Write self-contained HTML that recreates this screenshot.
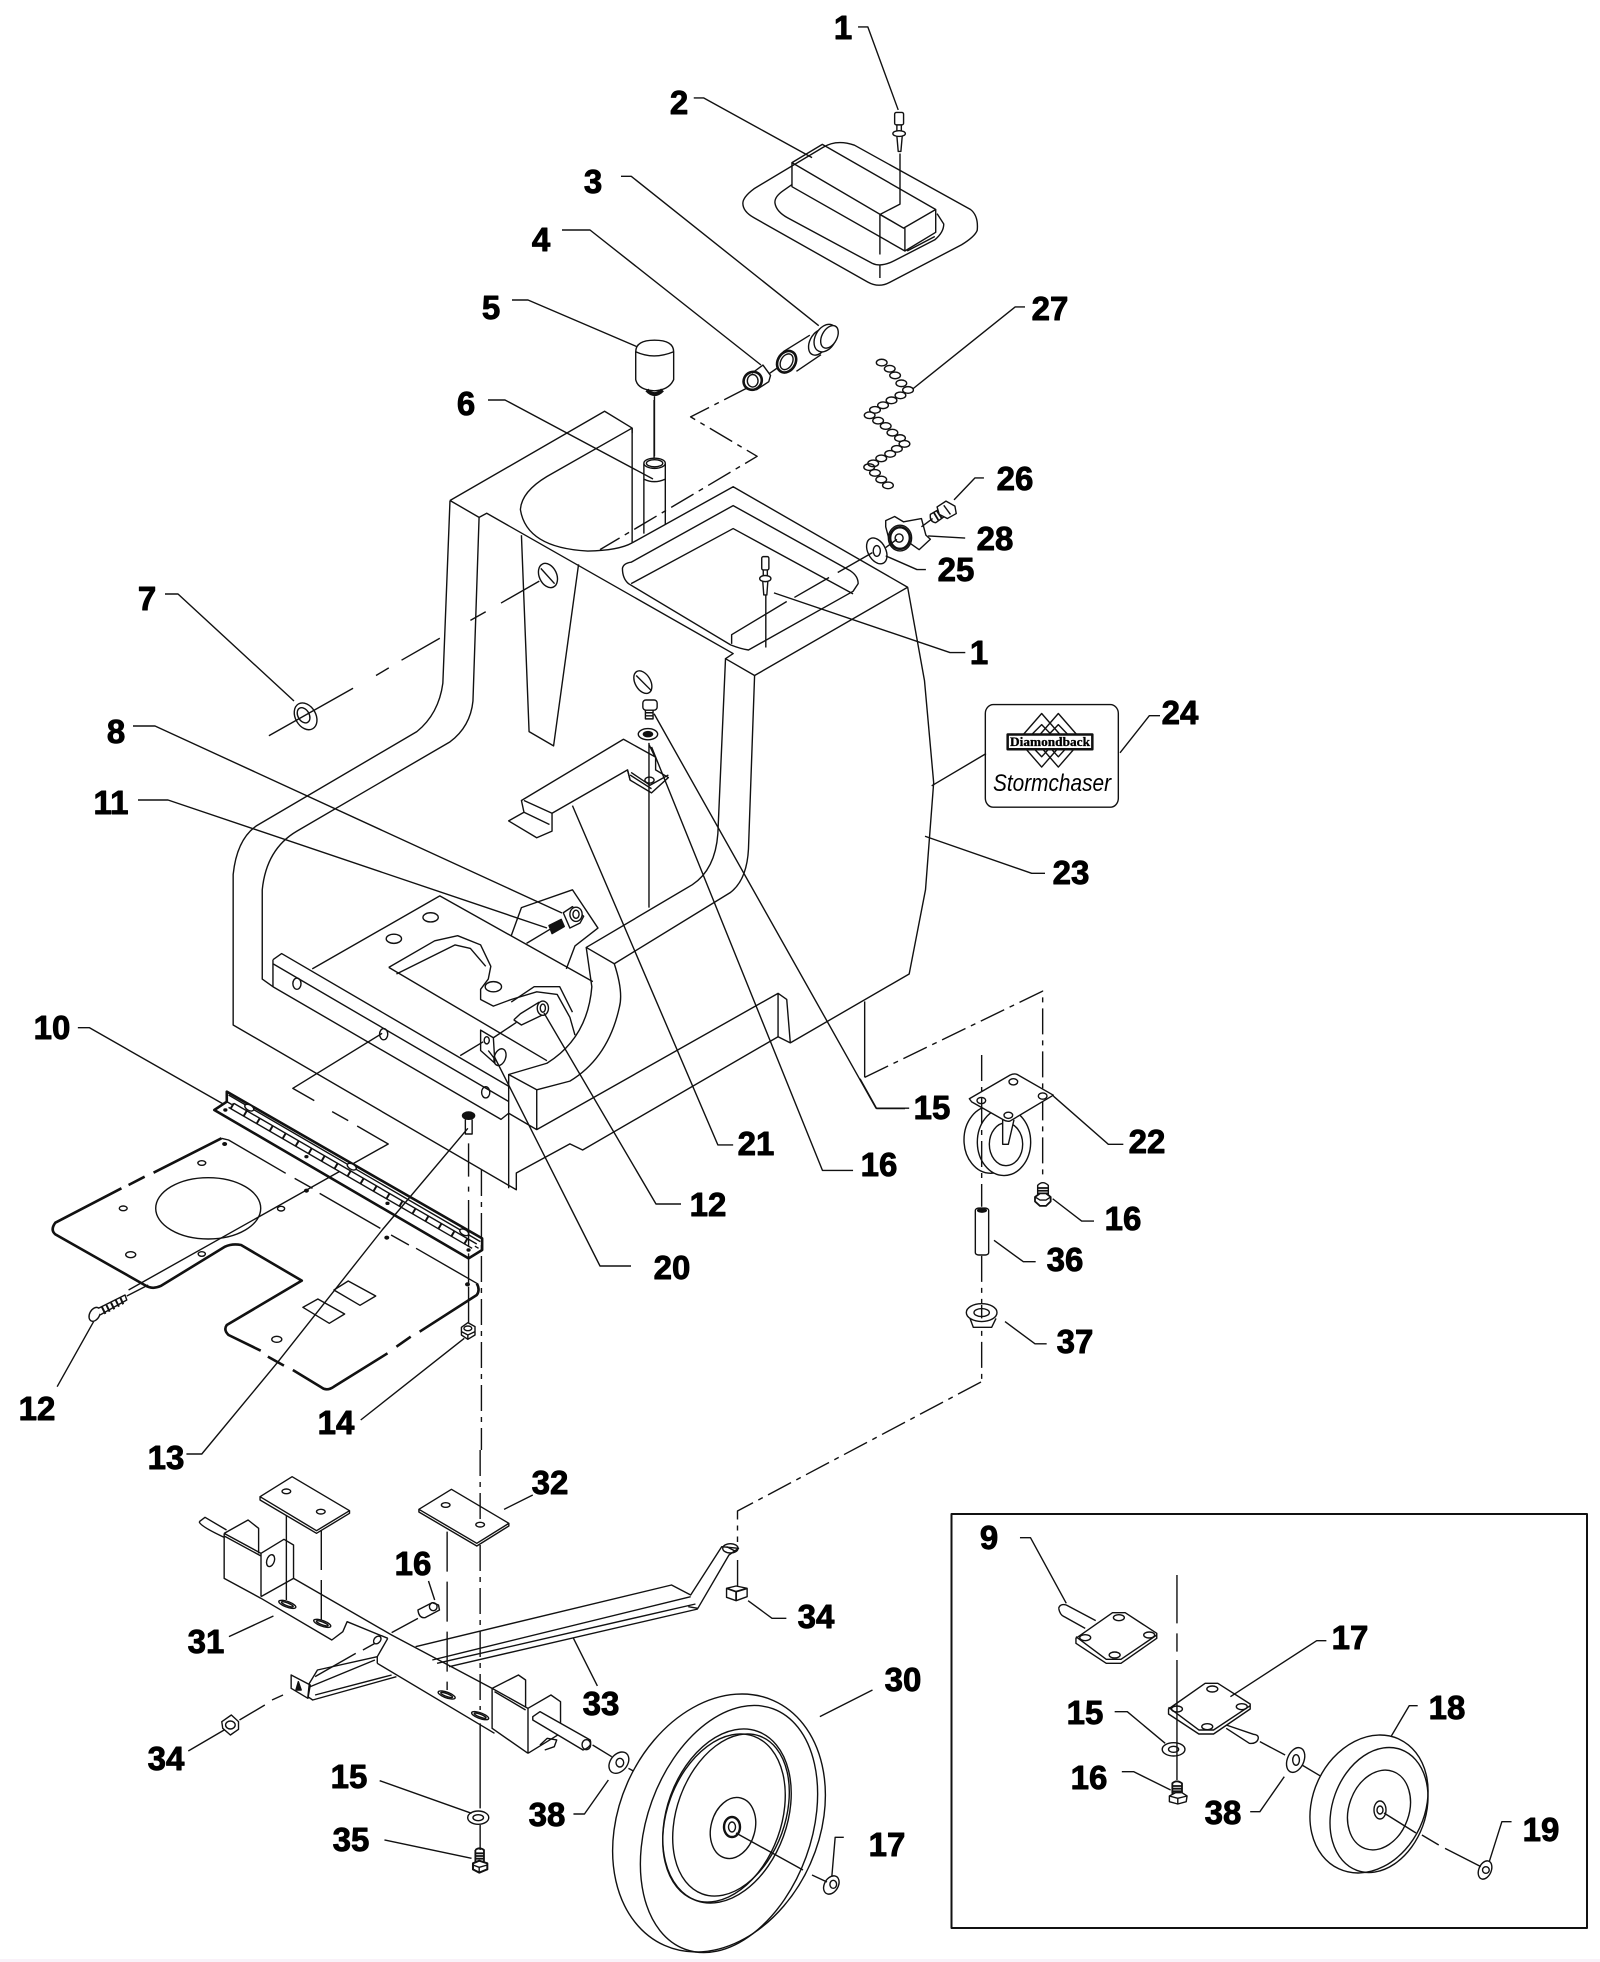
<!DOCTYPE html>
<html><head><meta charset="utf-8"><style>
html,body{margin:0;padding:0;background:#fff}
svg{display:block}
svg *{vector-effect:non-scaling-stroke}
g,path,ellipse,rect,polygon,line{fill:none;stroke:#111;stroke-width:1.4;stroke-linejoin:round}
.w{fill:#fff}
.k{fill:#111}
.t{stroke-width:2.6}
.d{stroke-dasharray:26 6 5 6}
.e{stroke-dasharray:40 10}
text{font-family:"Liberation Sans",sans-serif;font-weight:bold;font-size:33px;fill:#000;stroke:#000;stroke-width:.9;text-anchor:middle}
</style></head><body>
<svg width="1600" height="1962" viewBox="0 0 1600 1962" xmlns="http://www.w3.org/2000/svg">
<rect x="0" y="0" width="1600" height="1962" style="fill:#fff;stroke:none"/>
<rect x="0" y="1959" width="1600" height="3" style="fill:#f9f2f9;stroke:none"/>

<!-- main body: crop 1 -->
<g transform="translate(200 400) scale(.5102)">
<path d="M490 197L793 22L847 55L847 280"/>
<path d="M490 197L476 555Q468 615 425 650L110 835Q72 862 65 930L65 1225L620 1548L620 1515L725 1458L750 1470L1133 1248L1157 1260L1390 1125L1422 960L1438 750L1420 550L1387 367L1045 170L847 280"/>
<path d="M490 197L547 230L535 590Q530 640 490 670L190 845Q130 880 122 960L122 1135L143 1150L590 1410L605 1398"/>
<path d="M547 230L562 222L1045 497L1030 507L1087 540L1387 367"/>
<path d="M1030 507L1015 850Q1010 920 965 950L757 1073L812 1105L1040 965Q1072 940 1075 880L1087 540"/>
<path d="M757 1073L768 1150Q760 1250 680 1300L605 1322L660 1352L725 1335Q800 1290 822 1190Q830 1160 812 1105"/>
<path d="M605 1322L605 1545M660 1352L660 1430L605 1398M660 1430L1133 1163L1150 1175L1157 1260M1133 1163L1133 1248"/>
<path d="M143 1097L160 1085L605 1345M143 1097L143 1150M143 1105L605 1375"/>
<path d="M220 1115L470 972L770 1140"/>
<path d="M847 55L847 65M847 55L680 150Q630 180 628 215Q640 290 760 296Q820 295 847 280"/>
<path d="M630 265L645 650L693 678L742 322"/>
<ellipse cx="682" cy="344" rx="17" ry="25" transform="rotate(-25 682 344)"/><path d="M668 330L695 360"/>
<!-- tube 6 -->
<path d="M870 125L870 262M912 125L912 245M870 155Q890 165 912 155"/>
<ellipse cx="891" cy="124" rx="21" ry="10"/><ellipse cx="891" cy="124" rx="16" ry="7"/>
<path d="M890 0L890 115"/>
<!-- basin -->
<path d="M828 330Q830 320 845 318L1045 207L1275 335Q1290 345 1290 360L1280 375L1075 490Q1060 488 1040 480L840 360Q828 350 828 330Z"/>
<path d="M845 360L1045 252L1280 380M1042 478L1042 460L1150 395"/>
<path class="e" d="M1165 387L1325 295"/>
<!-- rivet -->
<rect x="1101" y="307" width="14" height="26" rx="3"/><path d="M1104 333V345M1112 333V345"/><ellipse cx="1108" cy="350" rx="11" ry="6"/>
<path d="M1103 355L1105 382H1111L1113 355M1109 382L1109 485"/>
<!-- dash 7 -->
<path d="M665 355L590 398M560 415L530 432M470 467L395 510M370 525L345 540M300 565L135 658"/>
<!-- washer 7 -->
<ellipse cx="207" cy="620" rx="20" ry="28" transform="rotate(-30 207 620)"/>
<ellipse cx="203" cy="618" rx="11" ry="16" transform="rotate(-30 203 618)"/>
<!-- bracket 21 -->
<path d="M605 825L635 808L630 785L830 665L893 700L893 725L918 740L885 770L843 745L838 725L690 810L690 845L660 858Z"/>
<path d="M635 808L685 832M635 785L690 810M843 745L838 725M845 730L882 755L918 735M843 735L885 762"/>
<ellipse cx="881" cy="745" rx="9" ry="6"/>
<!-- bolt, washer, hole -->
<ellipse cx="868" cy="553" rx="15" ry="24" transform="rotate(-30 868 553)"/><path d="M855 540L885 570"/>
<rect x="868" y="588" width="28" height="20" rx="6" class="w"/><path d="M873 608L873 625H888L888 608M873 613H888M873 619H888"/>
<ellipse cx="878" cy="655" rx="19" ry="11"/><ellipse cx="878" cy="655" rx="9" ry="5" class="k"/>
<path d="M880 672L880 995M880 675L892 700"/>
<!-- part 8 zone -->
<path d="M610 1050L630 995L730 960L780 1035L735 1070L718 1115"/>
<path d="M640 1065L690 1035"/>
<path d="M712 1005L730 993L752 1012L745 1025L725 1035Z" class="w"/>
<ellipse cx="737" cy="1008" rx="12" ry="14" class="w"/><ellipse cx="737" cy="1008" rx="6" ry="8"/>
<path d="M684 1030L708 1018L714 1032L690 1046Z" class="k"/>
<!-- cutout -->
<path d="M370 1112L460 1060L505 1050L550 1068L570 1110L565 1135L550 1155L550 1175L575 1188L610 1175L660 1160L700 1165L725 1210L735 1245"/>
<path d="M385 1125L500 1068L530 1075L560 1110M610 1180L655 1150L705 1150L730 1200"/>
<path d="M370 1112L680 1295M510 1285L555 1258"/>
<ellipse cx="452" cy="1014" rx="15" ry="9"/><ellipse cx="380" cy="1056" rx="15" ry="9"/>
<ellipse cx="190" cy="1144" rx="8" ry="11"/><ellipse cx="360" cy="1243" rx="8" ry="11"/><ellipse cx="560" cy="1357" rx="8" ry="11"/>
<ellipse cx="575" cy="1150" rx="16" ry="10"/>
<!-- pin 12 -->
<path d="M615 1215L630 1225L672 1205M615 1215L628 1203L665 1180"/>
<ellipse cx="672" cy="1192" rx="11" ry="14" class="w"/><ellipse cx="672" cy="1192" rx="5" ry="8"/>
<!-- bracket 20 -->
<path d="M550 1235L575 1250L578 1300L550 1275Z"/><ellipse cx="562" cy="1255" rx="5" ry="7"/>
<ellipse cx="588" cy="1288" rx="11" ry="17" transform="rotate(20 588 1288)"/>
<path d="M565 1275L578 1292M575 1250L620 1220"/>
<!-- leaders -->
<path d="M1125 378L1470 495H1500M890 615L1325 1388H1390M885 680L1220 1510H1280M730 795L1015 1460H1045"/>
</g>
<path d="M133 726H155L562 913M138 800H168L547 928M165 594H178L294 701M488 400H505L653 479M512 300H528L640 348M562 230H590L761 365M494 1056L600 1266H631M544 1013L656 1204H681"/>
<path class="d" d="M981 1382L737.5 1511V1542"/>

<!-- lower plate: crop 2 -->
<g transform="translate(0 1000) scale(.35714 .33333)">
<path class="t" d="M620 415L430 518M405 530L360 555M340 565L155 668Q140 690 155 703L405 855Q425 870 450 858L630 740Q650 730 675 735L845 842L635 975Q625 990 640 1005L730 1052M750 1070L795 1097M820 1110L900 1162Q915 1175 935 1160L1085 1060M1110 1040L1150 1010M1175 995L1335 885Q1345 870 1335 850"/>
<path d="M620 415L640 420L800 520M825 535L875 565M895 580L1065 685M1095 705L1145 735M1165 745L1335 850"/>
<ellipse cx="583" cy="625" rx="147" ry="92"/>
<ellipse cx="565" cy="489" rx="11" ry="7"/><ellipse cx="345" cy="625" rx="11" ry="7"/><ellipse cx="366" cy="764" rx="14" ry="9"/><ellipse cx="565" cy="762" rx="10" ry="7"/><ellipse cx="787" cy="626" rx="10" ry="7"/><ellipse cx="775" cy="1018" rx="14" ry="9"/>
<ellipse class="k" cx="629" cy="432" rx="5" ry="4"/><ellipse class="k" cx="858" cy="572" rx="5" ry="4"/><ellipse class="k" cx="1083" cy="713" rx="5" ry="4"/><ellipse class="k" cx="1309" cy="853" rx="5" ry="4"/><ellipse class="k" cx="858" cy="470" rx="4" ry="3"/><ellipse class="k" cx="1085" cy="610" rx="4" ry="3"/><ellipse class="k" cx="1312" cy="750" rx="4" ry="3"/><ellipse class="k" cx="631" cy="330" rx="4" ry="3"/>
<path d="M1070 100L820 265L880 302M930 335L975 362M1000 378L1087 432L990 490M950 515L360 870"/>
<path d="M935 870L975 843L1052 888L1008 916ZM848 922L890 897L965 942L922 970Z"/>
<!-- hinge -->
<path class="t" d="M635 275L1350 715L1350 750L1312 775L600 330L635 305Z"/>
<path d="M635 305L1340 745M640 285L1345 725"/>
<path d="M650 312L1330 738" style="stroke-width:7;stroke:#fff"/>
<path d="M655 310L1335 732M640 322L1322 745"/>
<path d="M648 316L1328 740" style="stroke-width:6;stroke-dasharray:2 13"/>
<ellipse cx="698" cy="323" rx="14" ry="8" transform="rotate(32 698 323)" class="w"/>
<ellipse cx="985" cy="500" rx="14" ry="8" transform="rotate(32 985 500)" class="w"/>
<ellipse cx="1300" cy="697" rx="14" ry="8" transform="rotate(32 1300 697)" class="w"/>
<!-- screw 12 -->
<ellipse cx="265" cy="943" rx="14" ry="22" transform="rotate(25 265 943)" class="w"/>
<path d="M275 925L350 885L355 900L280 945" class="w"/>
<path d="M285 920L295 942M298 915L307 935M311 908L320 928M324 900L333 920M337 893L345 913" style="stroke-width:2"/>
<path d="M355 888L415 855"/>
<!-- screw 13 -->
<ellipse cx="1312" cy="347" rx="17" ry="11" class="k"/>
<path d="M1303 358L1303 402H1322L1322 358"/>
<!-- nut 14 -->
<path d="M1292 982L1310 968L1330 980L1330 1005L1310 1018L1292 1005Z" class="w"/><ellipse cx="1310" cy="985" rx="11" ry="7"/><path d="M1292 995L1310 1005L1330 995M1310 1005V1018"/>
<!-- dashed verticals -->
<path d="M1312 430L1312 530M1312 560L1312 575M1312 600L1312 740M1312 760L1312 850M1312 860L1312 970"/>
<path class="d" d="M1348 510L1348 1350"/>
<!-- leaders -->
<path d="M160 1160L262 965M1010 1260L1300 1015M522 1362H565L775 1090L1070 690L1310 385M218 83H250L625 312"/>
</g>

<!-- frame: crop 3 -->
<g transform="translate(150 1450) scale(.47847 .33333)">
<path d="M230 140L297 80L417 182L348 242ZM230 140L230 150L348 250L417 190L417 182"/>
<ellipse cx="285" cy="124" rx="9" ry="7"/><ellipse cx="357" cy="185" rx="9" ry="7"/>
<path d="M562 178L630 118L750 220L683 280ZM562 178L562 186L683 288L750 228L750 220"/>
<ellipse cx="618" cy="165" rx="9" ry="7"/><ellipse cx="690" cy="224" rx="9" ry="7"/>
<path d="M103 215L115 202L160 240M103 215Q104 228 155 262"/>
<path d="M155 250L205 210L227 235L227 310M155 250L232 310L232 440M155 258L232 318M232 310L280 268L300 285L300 385L232 440M155 250L155 385L232 445"/>
<ellipse cx="252" cy="332" rx="8" ry="18" transform="rotate(10 252 332)"/>
<path d="M300 385L505 555L715 715M232 445L380 570L403 545L412 515L497 565M475 620L497 565M475 640L720 850M475 620L475 640"/>
<path d="M285 195L285 450"/><path class="e" d="M358 240L358 510"/>
<ellipse cx="287" cy="463" rx="20" ry="8" transform="rotate(30 287 463)"/><ellipse cx="287" cy="463" rx="14" ry="4" transform="rotate(30 287 463)"/>
<ellipse cx="360" cy="520" rx="20" ry="8" transform="rotate(30 360 520)"/><ellipse cx="360" cy="520" rx="14" ry="4" transform="rotate(30 360 520)"/>
<ellipse cx="620" cy="735" rx="20" ry="8" transform="rotate(30 620 735)"/><ellipse cx="620" cy="735" rx="14" ry="4" transform="rotate(30 620 735)"/>
<ellipse cx="690" cy="797" rx="20" ry="8" transform="rotate(30 690 797)"/><ellipse cx="690" cy="797" rx="14" ry="4" transform="rotate(30 690 797)"/>
<path class="e" d="M621 245L621 720"/><path class="d" d="M690 285L690 780"/>
<path d="M690 820L690 1075M690 1125L690 1200"/><path class="d" d="M690 0L690 215"/>
<path d="M715 715L770 675L785 690L785 770M715 715L790 775L790 910M720 725L785 780M790 775L838 735L858 755L858 850L790 910M715 715L715 835L790 910"/>
<path d="M800 800L815 785L920 870Q925 890 905 900L800 810Z" class="w"/><ellipse cx="912" cy="884" rx="9" ry="15"/>
<path d="M815 885L830 865L850 870L845 890L825 900"/>
<!-- arm 33 -->
<path d="M555 590L1090 405L1130 435L1195 290L1230 295L1210 315L1145 475L1125 470M590 630L1130 440M600 640L1140 462M625 650L1145 477"/>
<path d="M475 620L350 660L333 700L330 740L340 750L515 680M335 710L470 630M345 735L505 675"/>
<path d="M295 675L335 705L330 745L295 715Z"/><path d="M310 695L305 720L316 720Z" class="k"/>
<ellipse cx="1213" cy="295" rx="16" ry="14"/><path d="M1205 290L1225 305"/>
<ellipse cx="475" cy="570" rx="7" ry="12" transform="rotate(20 475 570)"/>
<!-- bolt 16 -->
<path d="M560 480L590 458L603 465L605 480L575 503Q562 505 560 480Z" class="w"/><ellipse cx="592" cy="470" rx="8" ry="12"/>
<path d="M560 505L505 548M470 580L445 600M430 610L345 680"/>
<!-- nuts 34 -->
<path d="M1205 415L1225 408L1248 415L1248 440L1225 452L1205 442Z" class="w"/><path d="M1205 415L1225 425L1248 415M1225 425V452" style="stroke-width:1.8"/>
<path d="M150 815L170 795L185 815L185 838L168 855L152 835Z"/><ellipse cx="168" cy="825" rx="10" ry="12"/>
<path d="M187 810L240 765M255 750L278 735"/>
<path d="M1228 330L1228 410"/>
<!-- leaders -->
<path d="M582 393L595 450M165 560L258 498M740 178L800 135M935 708L885 565M1330 505H1300L1250 452M1400 800L1510 720M80 903L155 840M480 992L672 1090M490 1170L672 1225M885 1092H908L958 990M1450 1162H1432L1425 1280"/>
<!-- washer 15 + bolt 35 -->
<ellipse cx="686" cy="1103" rx="22" ry="20"/><ellipse cx="686" cy="1103" rx="11" ry="9"/>
<path d="M680 1200L680 1235H698L698 1200Q688 1190 680 1200M680 1210H698M680 1218H698M680 1226H698" style="stroke-width:1.8"/>
<path d="M675 1240L688 1232L705 1240L705 1258L688 1268L675 1258Z" class="w" style="stroke-width:2"/><path d="M675 1245L688 1252L705 1245M688 1252V1268"/>
<!-- washer 38 -->
<ellipse cx="980" cy="938" rx="19" ry="33" transform="rotate(18 980 938)"/><ellipse cx="982" cy="938" rx="8" ry="13"/>
<path d="M925 885L965 920M1000 955L1030 978"/>
<!-- end cap 17 -->
<ellipse cx="1424" cy="1305" rx="15" ry="28" transform="rotate(15 1424 1305)"/><ellipse cx="1428" cy="1303" rx="7" ry="12"/>
</g>
<!-- wheel 30, real coordinates -->
<ellipse cx="719" cy="1823" rx="100" ry="134" transform="rotate(24 719 1823)" class="w"/>
<ellipse cx="729" cy="1829" rx="82" ry="128" transform="rotate(20 729 1829)"/>
<ellipse cx="727" cy="1816" rx="60" ry="90" transform="rotate(20 727 1816)"/>
<ellipse cx="724" cy="1818" rx="57" ry="87" transform="rotate(20 724 1818)"/>
<ellipse cx="731" cy="1815" rx="54" ry="84" transform="rotate(20 731 1815)"/>
<ellipse cx="733" cy="1828" rx="22" ry="31" transform="rotate(15 733 1828)"/>
<ellipse cx="732" cy="1827" rx="8" ry="10" style="stroke-width:2.4"/><ellipse cx="732" cy="1827" rx="3.5" ry="5"/>
<path d="M736 1833L803 1870M812 1875L827 1882"/>

<!-- top parts: crop 5 -->
<g transform="translate(600 0) scale(.44643 .41484)">
<path d="M320 490Q320 475 345 455L500 355Q530 335 570 350L830 505Q848 520 845 555Q840 570 810 590L650 680Q625 695 600 680L345 525Q320 510 320 490Z"/>
<path d="M430 445L410 460Q390 475 392 490Q395 510 420 525L610 635Q630 645 660 628L750 578Q770 560 770 540L755 515"/>
<path d="M430 392L498 348L752 505L680 550ZM430 392L430 450L683 605L683 550M752 505L752 560L683 605M627 517L680 550"/>
<path d="M688 605L750 570"/>
<path d="M627 517L672 492L672 370"/>
<path class="e" d="M627 517L627 670"/>
<rect x="660" y="271" width="20" height="30" rx="4"/><path d="M665 301V316M675 301V316"/><ellipse cx="670" cy="322" rx="14" ry="7"/>
<path d="M665 328L668 365H674L677 328"/>
<path d="M210 236H232L475 380M578 65H600L668 265M47 425H70L490 785"/>
<!-- part 3 -->
<path d="M410 848L470 808M440 895L495 855"/>
<ellipse cx="418" cy="872" rx="20" ry="27" transform="rotate(25 418 872)" class="t"/><ellipse cx="418" cy="872" rx="13" ry="20" transform="rotate(25 418 872)"/>
<ellipse cx="490" cy="825" rx="20" ry="33" transform="rotate(25 490 825)" class="w"/>
<ellipse cx="505" cy="815" rx="23" ry="35" transform="rotate(25 505 815)" class="w"/>
<ellipse cx="514" cy="812" rx="17" ry="29" transform="rotate(25 514 812)" class="w"/>
<!-- part 4 -->
<path d="M340 900L365 880L382 905L378 920L350 940"/>
<ellipse cx="342" cy="918" rx="20" ry="22" transform="rotate(25 342 918)" class="t"/><ellipse cx="342" cy="918" rx="12" ry="15"/>
<path d="M380 900L400 885"/>
<path class="d" d="M330 935L203 1005L352 1100L0 1325"/>
<!-- knob 5 -->
<path d="M80 848Q80 820 122 820Q165 820 165 848L165 915Q155 940 122 942Q85 940 80 915Z" class="w"/>
<path d="M80 848Q120 868 165 848"/>
<path d="M105 940Q122 960 140 940" style="stroke-width:4"/>
<path d="M122 955L122 1100"/>
<!-- chain 27 -->
<g>
<ellipse cx="631" cy="874" rx="12" ry="8"/><ellipse cx="649" cy="889" rx="12" ry="8"/><ellipse cx="661" cy="905" rx="12" ry="8"/><ellipse cx="675" cy="924" rx="12" ry="8"/><ellipse cx="690" cy="940" rx="12" ry="8"/><ellipse cx="673" cy="953" rx="12" ry="8"/><ellipse cx="653" cy="965" rx="12" ry="8"/><ellipse cx="634" cy="977" rx="12" ry="8"/><ellipse cx="616" cy="988" rx="12" ry="8"/><ellipse cx="604" cy="1001" rx="12" ry="8"/><ellipse cx="623" cy="1014" rx="12" ry="8"/><ellipse cx="640" cy="1027" rx="12" ry="8"/><ellipse cx="655" cy="1043" rx="12" ry="8"/><ellipse cx="672" cy="1056" rx="12" ry="8"/><ellipse cx="682" cy="1070" rx="12" ry="8"/><ellipse cx="665" cy="1082" rx="12" ry="8"/><ellipse cx="650" cy="1094" rx="12" ry="8"/><ellipse cx="630" cy="1105" rx="12" ry="8"/><ellipse cx="612" cy="1117" rx="12" ry="8"/><ellipse cx="603" cy="1126" rx="12" ry="8"/><ellipse cx="616" cy="1140" rx="12" ry="8"/><ellipse cx="630" cy="1156" rx="12" ry="8"/><ellipse cx="645" cy="1170" rx="12" ry="8"/>
</g>
<path d="M700 938L930 740H952M793 1205L840 1152H860M735 1292L818 1297M640 1340L710 1373H730"/>
<!-- bolt 26 -->
<path d="M740 1240L762 1226L778 1240L752 1260Q738 1258 740 1240Z" class="w"/>
<path d="M748 1236L758 1254M755 1232L766 1250" style="stroke-width:1.8"/>
<path d="M755 1222L775 1208L795 1220L798 1238L778 1250L760 1240Z" class="w"/><path d="M770 1218L785 1240"/>
<!-- wing nut 28 -->
<path d="M640 1270L640 1255L660 1245L680 1258L720 1250L730 1290L740 1300L715 1325L695 1310Q670 1330 650 1310Z" class="w"/>
<ellipse cx="672" cy="1297" rx="26" ry="31" class="w"/><ellipse cx="672" cy="1297" rx="22" ry="26" style="stroke-width:2.4"/><ellipse cx="670" cy="1297" rx="9" ry="10"/>
<path d="M720 1270L745 1250"/>
<!-- washer 25 -->
<ellipse cx="620" cy="1328" rx="20" ry="33" transform="rotate(-25 620 1328)"/><ellipse cx="620" cy="1328" rx="8" ry="13"/>
<path d="M640 1320L665 1300"/>
</g>

<!-- caster & sign: crop 6 -->
<g transform="translate(860 680) scale(.33333 .44643)">
<rect x="376" y="55" width="399" height="230" rx="24" ry="20"/>
<path d="M545 75L615 135L545 195L475 135Z M595 75L665 135L595 195L525 135Z"/>
<path d="M545 100L590 135L545 172L498 135Z M595 100L640 135L595 172L550 135Z"/>
<rect x="443" y="122" width="254" height="33" class="w" style="stroke-width:2.5"/>
<path d="M378 165L215 237M780 163L868 80H900M195 350L515 433H555M0 893L50 960H135M580 932L745 1040H790M578 1162L665 1212H702M402 1255L490 1303H527M435 1437L525 1487H560"/>
<path d="M14 720L14 890"/>
<path class="d" d="M14 890L548 697L548 1120"/>
<!-- wheel -->
<ellipse cx="392" cy="1030" rx="80" ry="75"/>
<ellipse cx="432" cy="1035" rx="80" ry="75" class="w"/>
<ellipse cx="438" cy="1040" rx="50" ry="48"/>
<path d="M428 985L428 1040L445 1040L462 985" class="w"/>
<path d="M328 938L450 885Q465 880 475 885L580 930L450 988Q440 990 430 985L335 945Z" class="w"/>
<ellipse cx="364" cy="942" rx="13" ry="7"/><ellipse cx="460" cy="900" rx="13" ry="7"/><ellipse cx="548" cy="932" rx="13" ry="7"/><ellipse cx="445" cy="975" rx="13" ry="7"/>
<path class="d" d="M365 840L365 1180M365 1290L365 1568"/>
<!-- bolt 16 -->
<path d="M533 1132Q548 1120 565 1132L565 1155H533Z" class="w"/><path d="M533 1138H565M533 1144H565M533 1150H565" style="stroke-width:1.8"/>
<path d="M525 1158L540 1150H558L572 1158V1168L558 1178H540L525 1168Z" class="w" style="stroke-width:1.8"/><path d="M525 1158L540 1165H558L572 1158"/>
<!-- spacer 36 -->
<rect x="346" y="1183" width="40" height="105" rx="10" ry="5" class="w"/><ellipse cx="366" cy="1188" rx="13" ry="4" class="k"/>
<!-- washer 37 -->
<path d="M330 1430L340 1450H395L408 1430" class="w"/>
<ellipse cx="365" cy="1417" rx="46" ry="20" class="w"/><ellipse cx="365" cy="1417" rx="23" ry="9"/>
<path d="M365 1400V1430"/>
</g>
<g style="stroke:none">
<text x="1050" y="746" style="font-family:'Liberation Serif',serif;font-size:13px;stroke-width:.3" textLength="80" lengthAdjust="spacingAndGlyphs">Diamondback</text>
<text x="1052" y="791" style="font-weight:normal;font-size:24px;stroke:none;font-style:italic" textLength="118" lengthAdjust="spacingAndGlyphs">Stormchaser</text>
</g>

<!-- inset: crop 4 -->
<rect x="951.5" y="1514" width="635.5" height="414" style="stroke-width:2"/>
<g transform="translate(940 1500) scale(.42088 .33333)">
<path d="M282 325Q285 310 300 315L370 362M282 325Q285 345 295 350L345 385"/>
<path d="M323 415L410 338H440L515 400V415L430 490H395L323 430Z" class="w"/>
<path d="M323 410L395 478H430L515 405"/>
<ellipse cx="425" cy="353" rx="13" ry="9"/><ellipse cx="345" cy="413" rx="13" ry="9"/><ellipse cx="497" cy="405" rx="13" ry="9"/><ellipse cx="415" cy="465" rx="13" ry="9"/>
<path d="M190 113H215L300 310"/>
<path d="M680 675L745 703Q760 705 755 720Q750 732 735 730L680 685" class="w"/>
<path d="M543 627L630 550H660L737 612V627L650 702H615L543 642Z" class="w"/>
<path d="M543 622L615 690H650L737 617"/>
<ellipse cx="647" cy="567" rx="13" ry="9"/><ellipse cx="563" cy="627" rx="13" ry="9"/><ellipse cx="717" cy="620" rx="13" ry="9"/><ellipse cx="635" cy="680" rx="13" ry="9"/>
<path d="M690 590L895 422H918"/>
<path d="M563 225V370M563 400V455M563 480V840"/>
<ellipse cx="555" cy="748" rx="27" ry="20"/><ellipse cx="555" cy="748" rx="12" ry="9"/>
<path d="M415 635H445L535 730M432 815H460L548 870"/>
<path d="M552 850Q562 838 575 850V880H552ZM552 858H575M552 866H575M552 874H575" style="stroke-width:1.8"/>
<path d="M545 888L560 878H575L587 888L585 905L565 912L545 905Z" class="w"/><path d="M545 888L565 895L587 888M565 895V912"/>
<ellipse cx="845" cy="780" rx="20" ry="38" transform="rotate(15 845 780)"/><ellipse cx="846" cy="780" rx="8" ry="16"/>
<path d="M760 725L820 765M860 795L913 835M737 935H760L818 830M1135 617H1115L1062 730M1358 965H1335L1305 1085M1145 1005L1185 1035M1200 1045L1285 1100"/>
<ellipse cx="1295" cy="1110" rx="15" ry="28" transform="rotate(15 1295 1110)"/><ellipse cx="1297" cy="1110" rx="8" ry="10"/>
</g>
<ellipse cx="1369" cy="1804" rx="56" ry="71.5" transform="rotate(25 1369 1804)" class="w"/>
<ellipse cx="1379" cy="1810" rx="46.6" ry="64.3" transform="rotate(20 1379 1810)"/>
<ellipse cx="1379" cy="1810" rx="30" ry="41" transform="rotate(20 1379 1810)"/>
<ellipse cx="1380" cy="1810" rx="6" ry="9"/><ellipse cx="1380" cy="1810" rx="3" ry="4"/>
<path d="M1384 1813L1416 1833"/>

<!-- labels -->
<g style="stroke:none" transform="translate(1 1)">
<text x="842" y="38">1</text><text x="678" y="113">2</text><text x="592" y="192">3</text><text x="540" y="250">4</text><text x="490" y="318">5</text><text x="465" y="414">6</text>
<text x="1049" y="319">27</text><text x="1014" y="489">26</text><text x="994" y="549">28</text><text x="955" y="580">25</text><text x="146" y="609">7</text><text x="978" y="663">1</text>
<text x="1179" y="723">24</text><text x="115" y="742">8</text><text x="110" y="813">11</text><text x="1070" y="883">23</text><text x="51" y="1038">10</text><text x="931" y="1118">15</text>
<text x="1146" y="1152">22</text><text x="755" y="1154">21</text><text x="878" y="1175">16</text><text x="707" y="1215">12</text><text x="1122" y="1229">16</text><text x="1064" y="1270">36</text>
<text x="671" y="1278">20</text><text x="1074" y="1352">37</text><text x="36" y="1419">12</text><text x="335" y="1433">14</text><text x="165" y="1468">13</text><text x="549" y="1493">32</text>
<text x="988" y="1548">9</text><text x="412" y="1574">16</text><text x="815" y="1627">34</text><text x="1349" y="1648">17</text><text x="205" y="1652">31</text><text x="902" y="1690">30</text>
<text x="600" y="1714">33</text><text x="1446" y="1718">18</text><text x="1084" y="1723">15</text><text x="165" y="1769">34</text><text x="1088" y="1788">16</text><text x="348" y="1787">15</text>
<text x="546" y="1825">38</text><text x="1222" y="1823">38</text><text x="1540" y="1840">19</text><text x="350" y="1850">35</text><text x="886" y="1855">17</text>
</g>
</svg>
</body></html>
